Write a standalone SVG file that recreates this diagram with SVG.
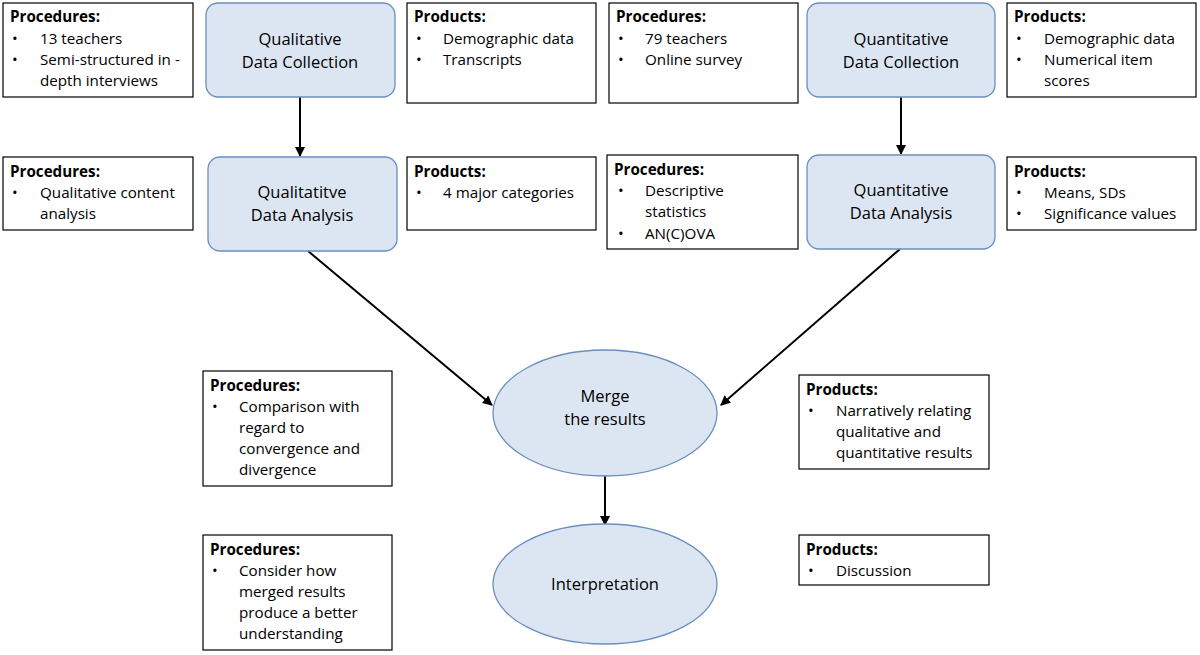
<svg xmlns="http://www.w3.org/2000/svg" width="1200" height="655" viewBox="0 0 1200 655">
<style>
.b{fill:#fff;stroke:#000;stroke-width:1.2}
.n{fill:#dce6f2;stroke:#6a8fbf;stroke-width:1.3}
text{font-family:"Open Sans","Liberation Sans",sans-serif;font-size:15.2px;fill:#000}
.h{font-weight:bold}
.c{text-anchor:middle;font-size:16.5px}
.e{stroke:#000;stroke-width:2;fill:none;marker-end:url(#a)}
</style>
<defs><marker id="a" markerWidth="10" markerHeight="10" refX="9" refY="5" orient="auto" markerUnits="userSpaceOnUse"><path d="M0,0L10,5L0,10z" fill="#000"/></marker></defs>
<rect width="1200" height="655" fill="#fff"/>
<g id="connectors">
<line class="e" x1="300" y1="97" x2="300" y2="156"/>
<line class="e" x1="901" y1="97" x2="901" y2="154"/>
<line class="e" x1="308" y1="251" x2="492" y2="405"/>
<line class="e" x1="900" y1="249" x2="721" y2="405"/>
<line class="e" x1="605" y1="476" x2="605" y2="525"/>
</g>
<g id="n1"><rect class="n" x="206" y="3" width="189" height="94" rx="12"/><text class="c" x="300" y="45">Qualitative</text><text class="c" x="300" y="68">Data Collection</text></g>
<g id="n2"><rect class="n" x="807" y="3" width="188" height="94" rx="12"/><text class="c" x="901" y="45">Quantitative</text><text class="c" x="901" y="68">Data Collection</text></g>
<g id="n3"><rect class="n" x="208" y="157" width="189" height="94" rx="12"/><text class="c" x="302" y="198">Qualitatitve</text><text class="c" x="302" y="221">Data Analysis</text></g>
<g id="n4"><rect class="n" x="807" y="155" width="188" height="94" rx="12"/><text class="c" x="901" y="196">Quantitative</text><text class="c" x="901" y="219">Data Analysis</text></g>
<g id="n5"><ellipse class="n" cx="605" cy="413" rx="112" ry="63"/><text class="c" x="605" y="402">Merge</text><text class="c" x="605" y="425">the results</text></g>
<g id="n6"><ellipse class="n" cx="605" cy="584" rx="112" ry="60"/><text class="c" x="605" y="590">Interpretation</text></g>
<g id="b1"><rect class="b" x="3" y="3" width="190" height="94"/><text class="h" x="10" y="22">Procedures:</text><text x="12" y="44">•</text><text x="40" y="44">13 teachers</text><text x="12" y="65">•</text><text x="40" y="65">Semi-structured in -</text><text x="40" y="86">depth interviews</text></g>
<g id="b2"><rect class="b" x="407" y="3" width="189" height="100"/><text class="h" x="414" y="22">Products:</text><text x="416" y="44">•</text><text x="443" y="44">Demographic data</text><text x="416" y="65">•</text><text x="443" y="65">Transcripts</text></g>
<g id="b3"><rect class="b" x="609" y="3" width="189" height="100"/><text class="h" x="616" y="22">Procedures:</text><text x="618" y="44">•</text><text x="645" y="44">79 teachers</text><text x="618" y="65">•</text><text x="645" y="65">Online survey</text></g>
<g id="b4"><rect class="b" x="1007" y="3" width="189" height="94"/><text class="h" x="1014" y="22">Products:</text><text x="1016" y="44">•</text><text x="1044" y="44">Demographic data</text><text x="1016" y="65">•</text><text x="1044" y="65">Numerical item</text><text x="1044" y="86">scores</text></g>
<g id="b5"><rect class="b" x="3" y="157" width="190" height="73"/><text class="h" x="10" y="177">Procedures:</text><text x="12" y="198">•</text><text x="40" y="198">Qualitative content</text><text x="40" y="219">analysis</text></g>
<g id="b6"><rect class="b" x="407" y="157" width="189" height="73"/><text class="h" x="414" y="177">Products:</text><text x="416" y="198">•</text><text x="443" y="198">4 major categories</text></g>
<g id="b7"><rect class="b" x="607" y="155" width="191" height="94"/><text class="h" x="614" y="175">Procedures:</text><text x="618" y="196">•</text><text x="645" y="196">Descriptive</text><text x="645" y="217">statistics</text><text x="618" y="239">•</text><text x="645" y="239">AN(C)OVA</text></g>
<g id="b8"><rect class="b" x="1007" y="157" width="189" height="73"/><text class="h" x="1014" y="177">Products:</text><text x="1016" y="198">•</text><text x="1044" y="198">Means, SDs</text><text x="1016" y="219">•</text><text x="1044" y="219">Significance values</text></g>
<g id="b9"><rect class="b" x="203" y="371" width="189" height="115"/><text class="h" x="210" y="391">Procedures:</text><text x="212" y="412">•</text><text x="239" y="412">Comparison with</text><text x="239" y="433">regard to</text><text x="239" y="454">convergence and</text><text x="239" y="475">divergence</text></g>
<g id="b10"><rect class="b" x="799" y="375" width="190" height="94"/><text class="h" x="806" y="395">Products:</text><text x="808" y="416">•</text><text x="836" y="416">Narratively relating</text><text x="836" y="437">qualitative and</text><text x="836" y="458">quantitative results</text></g>
<g id="b11"><rect class="b" x="203" y="535" width="189" height="115"/><text class="h" x="210" y="555">Procedures:</text><text x="212" y="576">•</text><text x="239" y="576">Consider how</text><text x="239" y="597">merged results</text><text x="239" y="618">produce a better</text><text x="239" y="639">understanding</text></g>
<g id="b12"><rect class="b" x="799" y="535" width="190" height="50"/><text class="h" x="806" y="555">Products:</text><text x="808" y="576">•</text><text x="836" y="576">Discussion</text></g>
</svg>
